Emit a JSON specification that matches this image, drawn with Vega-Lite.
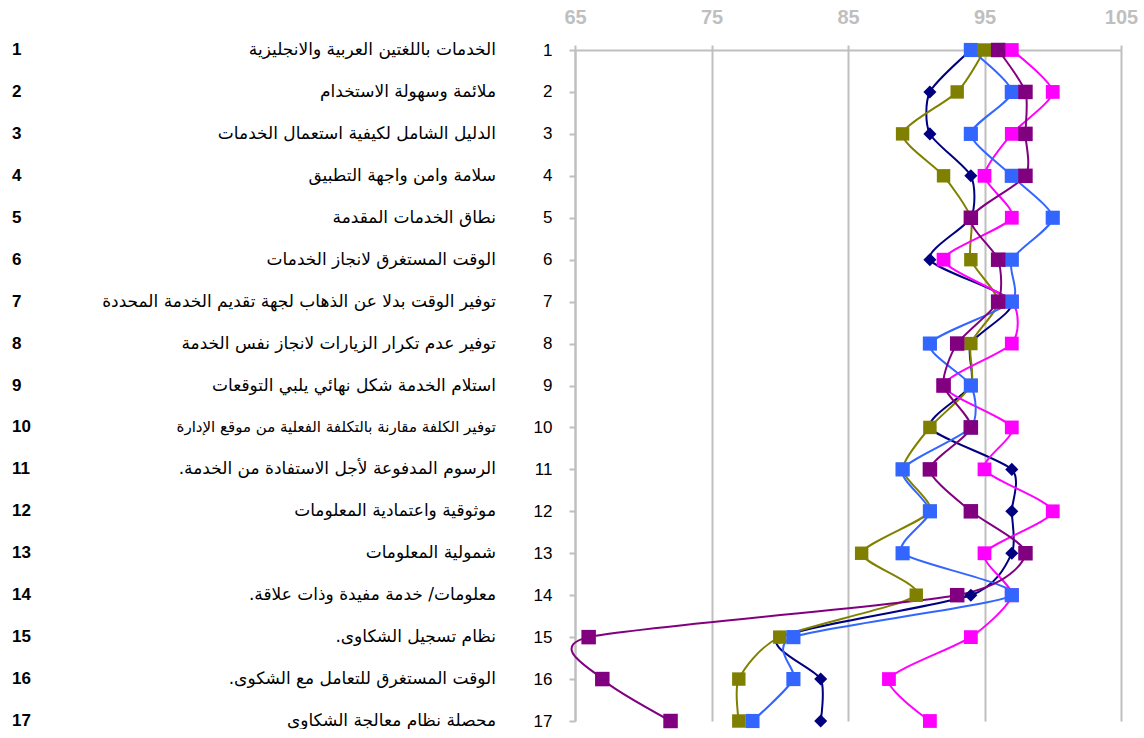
{
  "$schema": "https://vega.github.io/schema/vega-lite/v6.json",
  "padding": {"left": 12, "top": 7, "right": 0, "bottom": 0},
  "background": "white",
  "config": {"view": {"stroke": null}, "font": "Liberation Sans"},
  "spacing": 37,
  "resolve": {"scale": {"x": "independent", "y": "independent"}},
  "datasets": {
    "items": [
      {"row": 1, "label": "الخدمات باللغتين العربية والانجليزية"},
      {"row": 2, "label": "ملائمة وسهولة الاستخدام"},
      {"row": 3, "label": "الدليل الشامل لكيفية استعمال الخدمات"},
      {"row": 4, "label": "سلامة وامن واجهة التطبيق"},
      {"row": 5, "label": "نطاق الخدمات المقدمة"},
      {"row": 6, "label": "الوقت المستغرق لانجاز  الخدمات"},
      {"row": 7, "label": "توفير الوقت بدلا عن الذهاب لجهة تقديم الخدمة  المحددة"},
      {"row": 8, "label": "توفير عدم تكرار الزيارات لانجاز نفس الخدمة"},
      {"row": 9, "label": "استلام الخدمة شكل نهائي يلبي التوقعات"},
      {"row": 10, "label": "توفير الكلفة مقارنة بالتكلفة الفعلية من موقع الإدارة"},
      {"row": 11, "label": "الرسوم المدفوعة لأجل الاستفادة من الخدمة.\u200f"},
      {"row": 12, "label": "موثوقية واعتمادية المعلومات"},
      {"row": 13, "label": "شمولية المعلومات"},
      {"row": 14, "label": "معلومات/ خدمة مفيدة وذات علاقة.\u200f"},
      {"row": 15, "label": "نظام تسجيل الشكاوى.\u200f"},
      {"row": 16, "label": "الوقت المستغرق للتعامل مع الشكوى.\u200f"},
      {"row": 17, "label": "محصلة نظام معالجة الشكاوى"}
    ],
    "scores": [
      {"series": "S1", "row": 1, "value": 94}, {"series": "S1", "row": 2, "value": 91},
      {"series": "S1", "row": 3, "value": 91}, {"series": "S1", "row": 4, "value": 94},
      {"series": "S1", "row": 5, "value": 94}, {"series": "S1", "row": 6, "value": 91},
      {"series": "S1", "row": 7, "value": 97}, {"series": "S1", "row": 8, "value": 94},
      {"series": "S1", "row": 9, "value": 94}, {"series": "S1", "row": 10, "value": 91},
      {"series": "S1", "row": 11, "value": 97}, {"series": "S1", "row": 12, "value": 97},
      {"series": "S1", "row": 13, "value": 97}, {"series": "S1", "row": 14, "value": 94},
      {"series": "S1", "row": 15, "value": 80}, {"series": "S1", "row": 16, "value": 83},
      {"series": "S1", "row": 17, "value": 83},

      {"series": "S2", "row": 1, "value": 95}, {"series": "S2", "row": 2, "value": 93},
      {"series": "S2", "row": 3, "value": 89}, {"series": "S2", "row": 4, "value": 92},
      {"series": "S2", "row": 5, "value": 94}, {"series": "S2", "row": 6, "value": 94},
      {"series": "S2", "row": 7, "value": 96}, {"series": "S2", "row": 8, "value": 94},
      {"series": "S2", "row": 9, "value": 94}, {"series": "S2", "row": 10, "value": 91},
      {"series": "S2", "row": 11, "value": 89}, {"series": "S2", "row": 12, "value": 91},
      {"series": "S2", "row": 13, "value": 86}, {"series": "S2", "row": 14, "value": 90},
      {"series": "S2", "row": 15, "value": 80}, {"series": "S2", "row": 16, "value": 77},
      {"series": "S2", "row": 17, "value": 77},

      {"series": "S3", "row": 1, "value": 97}, {"series": "S3", "row": 2, "value": 100},
      {"series": "S3", "row": 3, "value": 97}, {"series": "S3", "row": 4, "value": 95},
      {"series": "S3", "row": 5, "value": 97}, {"series": "S3", "row": 6, "value": 92},
      {"series": "S3", "row": 7, "value": 97}, {"series": "S3", "row": 8, "value": 97},
      {"series": "S3", "row": 9, "value": 92}, {"series": "S3", "row": 10, "value": 97},
      {"series": "S3", "row": 11, "value": 95}, {"series": "S3", "row": 12, "value": 100},
      {"series": "S3", "row": 13, "value": 95}, {"series": "S3", "row": 14, "value": 97},
      {"series": "S3", "row": 15, "value": 94}, {"series": "S3", "row": 16, "value": 88},
      {"series": "S3", "row": 17, "value": 91},

      {"series": "S4", "row": 1, "value": 94}, {"series": "S4", "row": 2, "value": 97},
      {"series": "S4", "row": 3, "value": 94}, {"series": "S4", "row": 4, "value": 97},
      {"series": "S4", "row": 5, "value": 100}, {"series": "S4", "row": 6, "value": 97},
      {"series": "S4", "row": 7, "value": 97}, {"series": "S4", "row": 8, "value": 91},
      {"series": "S4", "row": 9, "value": 94}, {"series": "S4", "row": 10, "value": 94},
      {"series": "S4", "row": 11, "value": 89}, {"series": "S4", "row": 12, "value": 91},
      {"series": "S4", "row": 13, "value": 89}, {"series": "S4", "row": 14, "value": 97},
      {"series": "S4", "row": 15, "value": 81}, {"series": "S4", "row": 16, "value": 81},
      {"series": "S4", "row": 17, "value": 78},

      {"series": "S5", "row": 1, "value": 96}, {"series": "S5", "row": 2, "value": 98},
      {"series": "S5", "row": 3, "value": 98}, {"series": "S5", "row": 4, "value": 98},
      {"series": "S5", "row": 5, "value": 94}, {"series": "S5", "row": 6, "value": 96},
      {"series": "S5", "row": 7, "value": 96}, {"series": "S5", "row": 8, "value": 93},
      {"series": "S5", "row": 9, "value": 92}, {"series": "S5", "row": 10, "value": 94},
      {"series": "S5", "row": 11, "value": 91}, {"series": "S5", "row": 12, "value": 94},
      {"series": "S5", "row": 13, "value": 98}, {"series": "S5", "row": 14, "value": 93},
      {"series": "S5", "row": 15, "value": 66}, {"series": "S5", "row": 16, "value": 67},
      {"series": "S5", "row": 17, "value": 72}
    ]
  },
  "hconcat": [
    {
      "width": 484,
      "height": 671,
      "data": {"name": "items"},
      "encoding": {
        "y": {"field": "row", "type": "quantitative", "scale": {"domain": [1, 17], "nice": false, "zero": false, "reverse": true}, "axis": null}
      },
      "layer": [
        {
          "mark": {"type": "text", "align": "left", "baseline": "middle", "font": "Liberation Sans", "fontSize": 17, "fontWeight": "bold", "color": "black"},
          "encoding": {
            "x": {"datum": 0, "type": "quantitative", "scale": {"domain": [0, 1]}, "axis": null},
            "text": {"field": "row"}
          }
        },
        {
          "mark": {"type": "text", "align": "right", "baseline": "middle", "font": "DejaVu Sans", "color": "black"},
          "encoding": {
            "x": {"datum": 1, "type": "quantitative", "axis": null},
            "text": {"field": "label"},
            "size": {"condition": {"test": "datum.row === 10", "value": 15}, "value": 17}
          }
        }
      ]
    },
    {
      "width": 546,
      "height": 671,
      "data": {"name": "scores"},
      "encoding": {
        "x": {
          "field": "value", "type": "quantitative",
          "scale": {"domain": [65, 105], "nice": false, "zero": false},
          "axis": {
            "orient": "top", "title": null, "values": [65, 75, 85, 95, 105],
            "grid": true, "gridColor": "#BFBFBF", "gridWidth": 2,
            "domainColor": "#BFBFBF", "domainWidth": 2,
            "tickColor": "#BFBFBF", "tickWidth": 2, "tickSize": 5,
            "labelFont": "Liberation Sans", "labelFontSize": 20, "labelFontWeight": "bold",
            "labelColor": "#BFBFBF", "labelPadding": 18, "labelFlush": false
          }
        },
        "y": {
          "field": "row", "type": "quantitative",
          "scale": {"domain": [1, 17], "nice": false, "zero": false, "reverse": true},
          "axis": {
            "title": null, "values": [1, 2, 3, 4, 5, 6, 7, 8, 9, 10, 11, 12, 13, 14, 15, 16, 17],
            "format": "d", "grid": false, "labelFlush": false,
            "domainColor": "#BFBFBF", "domainWidth": 2,
            "tickColor": "#BFBFBF", "tickWidth": 2, "tickSize": 6,
            "labelFont": "Liberation Sans", "labelFontSize": 17, "labelColor": "black",
            "labelPadding": 17
          }
        },
        "color": {
          "field": "series", "type": "nominal",
          "scale": {"domain": ["S1", "S2", "S3", "S4", "S5"], "range": ["#000080", "#808000", "#FF00FF", "#3366FF", "#800080"]},
          "legend": null
        }
      },
      "layer": [
        {
          "mark": {"type": "line", "interpolate": "cardinal", "tension": 0.3, "strokeWidth": 2},
          "encoding": {"order": {"field": "row", "type": "quantitative"}}
        },
        {
          "mark": {"type": "point", "filled": true, "opacity": 1},
          "encoding": {
            "shape": {"field": "series", "type": "nominal", "scale": {"domain": ["S1", "S2", "S3", "S4", "S5"], "range": ["diamond", "square", "square", "square", "square"]}, "legend": null},
            "size": {"field": "series", "type": "nominal", "scale": {"domain": ["S1", "S2", "S3", "S4", "S5"], "range": [170, 210, 210, 210, 210]}, "legend": null}
          }
        }
      ]
    }
  ]
}
